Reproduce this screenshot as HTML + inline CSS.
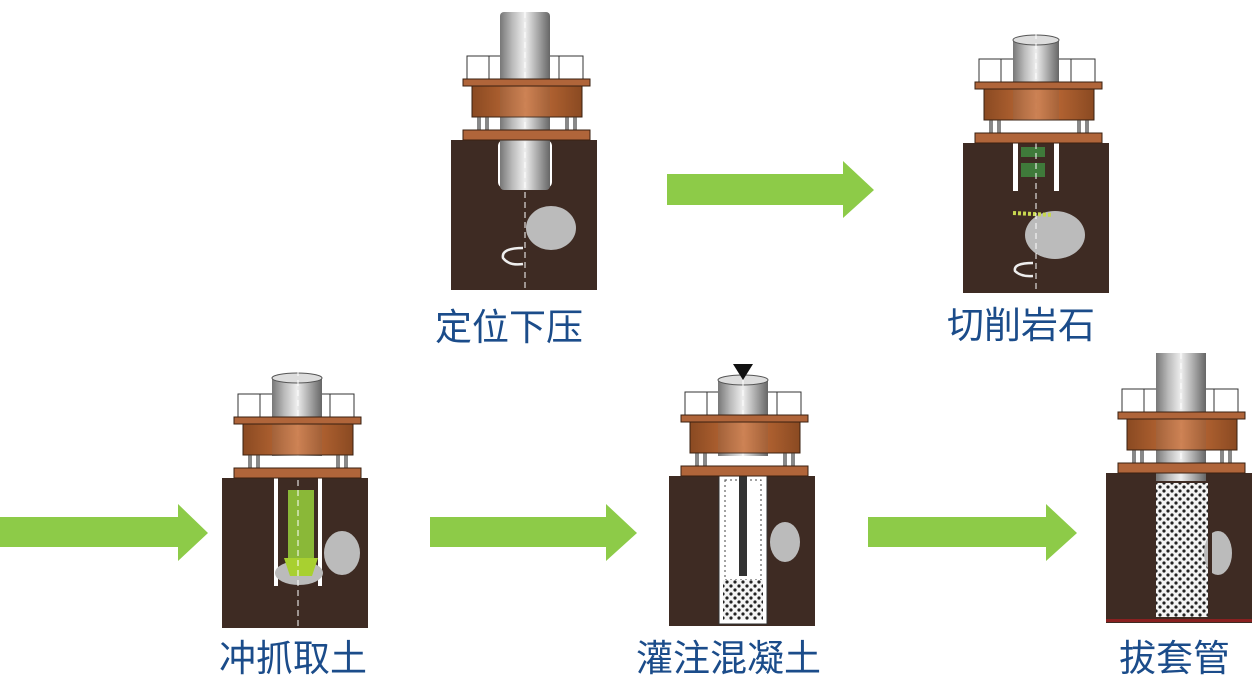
<!DOCTYPE html>
<html><head><meta charset="utf-8"><style>
html,body{margin:0;padding:0;background:#fff;width:1260px;height:686px;overflow:hidden}
.lab{position:absolute;font-family:"Liberation Sans","Noto Sans CJK SC",sans-serif;font-size:37px;color:#1b4c8a;white-space:nowrap;line-height:1}
</style></head><body>
<svg width="1260" height="686" style="position:absolute;left:0;top:0">
<defs>
<linearGradient id="pg" x1="0" x2="1">
<stop offset="0" stop-color="#777"/><stop offset=".25" stop-color="#bbb"/><stop offset=".5" stop-color="#eee"/><stop offset=".75" stop-color="#aaa"/><stop offset="1" stop-color="#666"/></linearGradient>
<linearGradient id="og" x1="0" x2="1">
<stop offset="0" stop-color="#8a4a22"/><stop offset=".5" stop-color="#c8703a"/><stop offset="1" stop-color="#8a4a22"/></linearGradient>
<pattern id="dots" width="8" height="8" patternUnits="userSpaceOnUse">
<rect width="8" height="8" fill="#f4f4f4"/><circle cx="2" cy="2" r="1.6" fill="#222"/><circle cx="6" cy="6" r="1.6" fill="#222"/></pattern>
<g id="rig">
<rect x="0" y="0" width="146" height="150" fill="#3e2b23"/>
<rect x="16" y="-84" width="116" height="23" fill="#fff" stroke="#333" stroke-width="1"/>
<line x1="38" y1="-84" x2="38" y2="-61" stroke="#333"/><line x1="108" y1="-84" x2="108" y2="-61" stroke="#333"/>
<line x1="60" y1="-84" x2="60" y2="-61" stroke="#333"/><line x1="88" y1="-84" x2="88" y2="-61" stroke="#333"/>
<rect x="12" y="-61" width="127" height="7" fill="#b0653a" stroke="#3a2010"/>
<rect x="21" y="-54" width="110" height="31" fill="url(#og)" stroke="#3a2010"/>
<rect x="26" y="-23" width="4" height="13" fill="#888"/><rect x="34" y="-23" width="4" height="13" fill="#888"/>
<rect x="114" y="-23" width="4" height="13" fill="#888"/><rect x="122" y="-23" width="4" height="13" fill="#888"/>
<rect x="12" y="-10" width="127" height="10" fill="#b0653a" stroke="#3a2010"/>
</g>
</defs>
<polygon points="667,174 843,174 843,161 874,190 843,218 843,205 667,205" fill="#8dcb48"/>
<polygon points="0,517 178,517 178,504 208,533 178,561 178,547 0,547" fill="#8dcb48"/>
<polygon points="430,517 606,517 606,504 637,533 606,561 606,547 430,547" fill="#8dcb48"/>
<polygon points="868,517 1046,517 1046,504 1077,533 1046,561 1046,547 868,547" fill="#8dcb48"/>

<g transform="translate(451,140)">
<use href="#rig"/>
<rect x="47" y="0" width="54" height="48" rx="6" fill="#fff"/>
<rect x="49" y="-128" width="50" height="178" rx="4" fill="url(#pg)"/>
<line x1="74" y1="-128" x2="74" y2="150" stroke="#fff" stroke-dasharray="6 4"/>
<ellipse cx="100" cy="88" rx="25" ry="22" fill="#bbb"/>
<path d="M72 108 Q50 108 52 118 Q58 126 72 124" fill="none" stroke="#eee" stroke-width="2.5"/>
<rect x="12" y="-61" width="127" height="7" fill="#b0653a" stroke="#3a2010"/>
<rect x="21" y="-54" width="110" height="31" fill="url(#og)" stroke="#3a2010" opacity=".85"/>
<rect x="12" y="-10" width="127" height="10" fill="#b0653a" stroke="#3a2010"/>
</g>

<g transform="translate(963,143)">
<use href="#rig"/>
<rect x="50" y="-103" width="46" height="80" fill="url(#pg)"/>
<ellipse cx="73" cy="-103" rx="23" ry="5" fill="#ddd" stroke="#555"/>
<rect x="50" y="0" width="46" height="48" fill="#fff"/>
<rect x="55" y="0" width="36" height="48" fill="#3e2b23"/>
<rect x="58" y="4" width="24" height="10" fill="#3f7a3a"/><rect x="58" y="20" width="24" height="14" fill="#3f7a3a"/>
<ellipse cx="92" cy="92" rx="30" ry="24" fill="#bbb"/>
<path d="M50 70 L90 72" stroke="#c8d850" stroke-width="4" stroke-dasharray="3 2"/>
<path d="M70 120 Q50 120 52 128 Q58 134 70 133" fill="none" stroke="#eee" stroke-width="2.5"/>
<line x1="73" y1="-110" x2="73" y2="150" stroke="#fff" stroke-dasharray="6 4"/>
<rect x="12" y="-61" width="127" height="7" fill="#b0653a" stroke="#3a2010"/>
<rect x="21" y="-54" width="110" height="31" fill="url(#og)" stroke="#3a2010" opacity=".85"/>
<rect x="12" y="-10" width="127" height="10" fill="#b0653a" stroke="#3a2010"/>
</g>

<g transform="translate(222,478)">
<use href="#rig"/>
<rect x="50" y="-100" width="50" height="78" fill="url(#pg)"/>
<ellipse cx="75" cy="-100" rx="25" ry="5" fill="#ddd" stroke="#555"/>
<rect x="52" y="0" width="48" height="108" fill="#fff"/>
<rect x="56" y="0" width="40" height="108" fill="#3e2b23"/>
<ellipse cx="120" cy="75" rx="18" ry="22" fill="#bbb"/>
<ellipse cx="77" cy="95" rx="24" ry="12" fill="#bbb"/>
<rect x="66" y="12" width="26" height="70" fill="#8ab838"/>
<polygon points="62,80 96,80 90,98 68,98" fill="#a8d030"/>
<line x1="76" y1="-118" x2="76" y2="150" stroke="#fff" stroke-dasharray="6 4"/>
<rect x="12" y="-61" width="127" height="7" fill="#b0653a" stroke="#3a2010"/>
<rect x="21" y="-54" width="110" height="31" fill="url(#og)" stroke="#3a2010" opacity=".85"/>
<rect x="12" y="-10" width="127" height="10" fill="#b0653a" stroke="#3a2010"/>
</g>

<g transform="translate(669,476)">
<use href="#rig"/>
<rect x="49" y="-96" width="50" height="76" fill="url(#pg)"/>
<ellipse cx="74" cy="-96" rx="25" ry="5" fill="#ddd" stroke="#555"/>
<polygon points="64,-112 84,-112 74,-96" fill="#111"/>
<rect x="50" y="0" width="48" height="148" fill="#fff" stroke="#333"/>
<rect x="56" y="4" width="36" height="100" fill="#fff" stroke="#444" stroke-dasharray="2 3"/>
<rect x="70" y="0" width="8" height="100" fill="#333"/>
<rect x="54" y="104" width="40" height="40" fill="url(#dots)"/>
<ellipse cx="116" cy="66" rx="15" ry="20" fill="#bbb"/>
<line x1="74" y1="-96" x2="74" y2="0" stroke="#fff" stroke-dasharray="6 4"/>
<rect x="12" y="-61" width="127" height="7" fill="#b0653a" stroke="#3a2010"/>
<rect x="21" y="-54" width="110" height="31" fill="url(#og)" stroke="#3a2010" opacity=".85"/>
<rect x="12" y="-10" width="127" height="10" fill="#b0653a" stroke="#3a2010"/>
</g>

<g transform="translate(1106,473)">
<use href="#rig"/>
<rect x="50" y="-120" width="50" height="128" fill="url(#pg)"/>
<rect x="50" y="10" width="52" height="134" fill="url(#dots)"/>
<ellipse cx="112" cy="80" rx="14" ry="22" fill="#bbb"/>
<rect x="102" y="56" width="4" height="50" fill="#3e2b23"/>
<line x1="75" y1="-120" x2="75" y2="0" stroke="#fff" stroke-dasharray="6 4"/>
<rect x="12" y="-61" width="127" height="7" fill="#b0653a" stroke="#3a2010"/>
<rect x="21" y="-54" width="110" height="31" fill="url(#og)" stroke="#3a2010" opacity=".85"/>
<rect x="12" y="-10" width="127" height="10" fill="#b0653a" stroke="#3a2010"/>
<rect x="0" y="146" width="146" height="3" fill="#8a2020"/>
</g>
</svg>
<div class="lab" style="left:435px;top:309px">定位下压</div>
<div class="lab" style="left:947px;top:307px">切削岩石</div>
<div class="lab" style="left:219px;top:640px">冲抓取土</div>
<div class="lab" style="left:636px;top:640px">灌注混凝土</div>
<div class="lab" style="left:1119px;top:640px">拔套管</div>
</body></html>
